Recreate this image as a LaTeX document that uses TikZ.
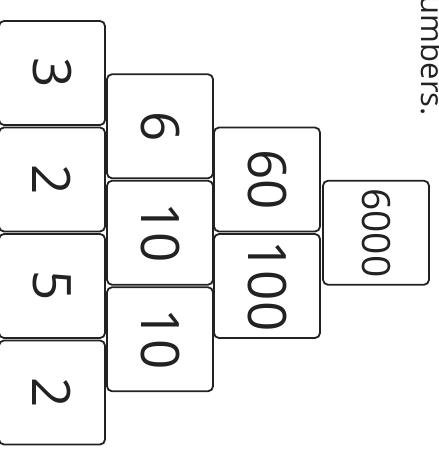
\documentclass[tikz,border=0pt]{standalone}
\usepackage{fontspec}
\setmainfont{Open Sans}
\definecolor{ink}{HTML}{222222}
\begin{document}
\begin{tikzpicture}[x=1pt,y=-1pt,
  numbox/.style={draw=ink, text=ink, line width=1.8pt, rounded corners=5pt,
    rotate=-90, minimum width=104pt, minimum height=106pt, inner sep=0pt,
    outer sep=0pt, font=\fontsize{53}{60}\selectfont},
  topbox/.style={numbox, font=\fontsize{39}{44}\selectfont},
  caption/.style={text=ink, rotate=-90, inner sep=0pt, font=\fontsize{31}{36}\selectfont}]
\useasboundingbox (0,0) rectangle (439,450);
% column 1
\node[numbox] (a1) at (52,73) {3};
\node[numbox] (a2) at (52,179.5) {2};
\node[numbox] (a3) at (52,286) {5};
\node[numbox] (a4) at (52,392.5) {2};
% column 2
\node[numbox] (b1) at (160,126.25) {6};
\node[numbox] (b2) at (160,232.75) {10};
\node[numbox] (b3) at (160,339.25) {10};
% column 3
\node[numbox] (c1) at (267,179.5) {60};
\node[numbox] (c2) at (267,286) {100};
% column 4
\node[topbox] (d1) at (376,232.75) {6000};
% caption
\node[caption, anchor=base east] (cap) at (421,116) {umbers.};
\end{tikzpicture}
\end{document}
